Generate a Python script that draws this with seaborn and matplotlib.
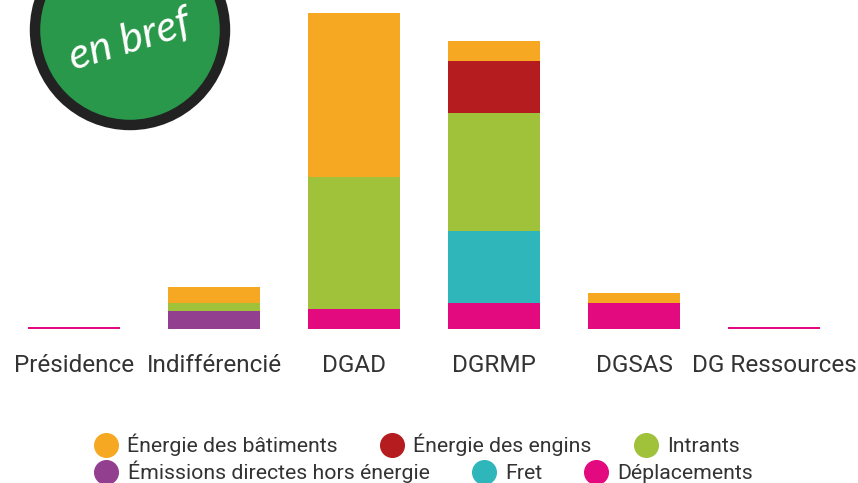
import pandas as pd
import numpy as np
import seaborn as sns
import matplotlib.pyplot as plt
from matplotlib.patches import Circle

# Données (hauteurs relatives)
categories = ["Présidence", "Indifférencié", "DGAD", "DGRMP", "DGSAS", "DG Ressources"]
deplacements = [2, 0, 20, 26, 26, 2]
emissions = [0, 18, 0, 0, 0, 0]
fret = [0, 0, 0, 72, 0, 0]
intrants = [0, 8, 132, 118, 0, 0]
engins = [0, 0, 0, 52, 0, 0]
batiments = [0, 16, 164, 20, 10, 0]

# ordre d'empilement (du bas vers le haut)
series = [
    ("Déplacements", deplacements, "#E3097F"),
    ("Émissions directes hors énergie", emissions, "#923F8F"),
    ("Fret", fret, "#2FB6BB"),
    ("Intrants", intrants, "#A0C13A"),
    ("Énergie des engins", engins, "#B51C20"),
    ("Énergie des bâtiments", batiments, "#F6A823"),
]

sns.set_style("white")
plt.rcParams["font.family"] = ["Roboto", "DejaVu Sans"]

fig = plt.figure(figsize=(8.58, 4.83), dpi=100)
ax = fig.add_axes([0, (483 - 329) / 483, 1, 329 / 483])

df = pd.DataFrame({"cat": categories})
cum = np.zeros(len(categories))
cums = []
for name, vals, col in series:
    cum = cum + np.array(vals)
    cums.append((name, cum.copy(), col))

# on dessine les cumuls du plus haut au plus bas
for name, vals, col in reversed(cums):
    df["v"] = vals
    sns.barplot(data=df, x="cat", y="v", color=col, width=0.657,
                order=categories, ax=ax, saturation=1, linewidth=0)

ax.set_xlim(-74 / 140, (858 - 74) / 140)
ax.set_ylim(0, 329)
ax.set_xlabel("")
ax.set_ylabel("")
ax.set_yticks([])
sns.despine(ax=ax, left=True, bottom=True)
ax.tick_params(axis="x", length=0, pad=18, labelsize=17.5, labelcolor="#333333")

# légende sur deux lignes centrées
handles = {}
for name, vals, col in series:
    handles[name] = plt.Line2D([], [], marker="o", linestyle="", markersize=17,
                               markerfacecolor=col, markeredgecolor=col)
row1 = ["Énergie des bâtiments", "Énergie des engins", "Intrants"]
row2 = ["Émissions directes hors énergie", "Fret", "Déplacements"]
leg1 = fig.legend([handles[n] for n in row1], row1, ncol=3, loc="center",
                  bbox_to_anchor=(0.486, 1 - 445 / 483), frameon=False,
                  fontsize=15.3, handletextpad=0.45, columnspacing=2.0,
                  labelcolor="#333333", handlelength=1.1)
leg2 = fig.legend([handles[n] for n in row2], row2, ncol=3, loc="center",
                  bbox_to_anchor=(0.494, 1 - 472 / 483), frameon=False,
                  fontsize=15.3, handletextpad=0.45, columnspacing=2.0,
                  labelcolor="#333333", handlelength=1.1)

# pastille "en bref"
ov = fig.add_axes([0, 0, 1, 1], zorder=5)
ov.set_xlim(0, 858)
ov.set_ylim(483, 0)
ov.axis("off")
ov.add_patch(Circle((130, 30), 95, facecolor="#2A984A", edgecolor="#222222",
                    linewidth=7.5))
ov.text(130, 40, "en bref", color="white", fontsize=31, style="italic",
        rotation=17, ha="center", va="center", family=["Lato", "DejaVu Sans"])

fig.savefig("out.png", dpi=100)
